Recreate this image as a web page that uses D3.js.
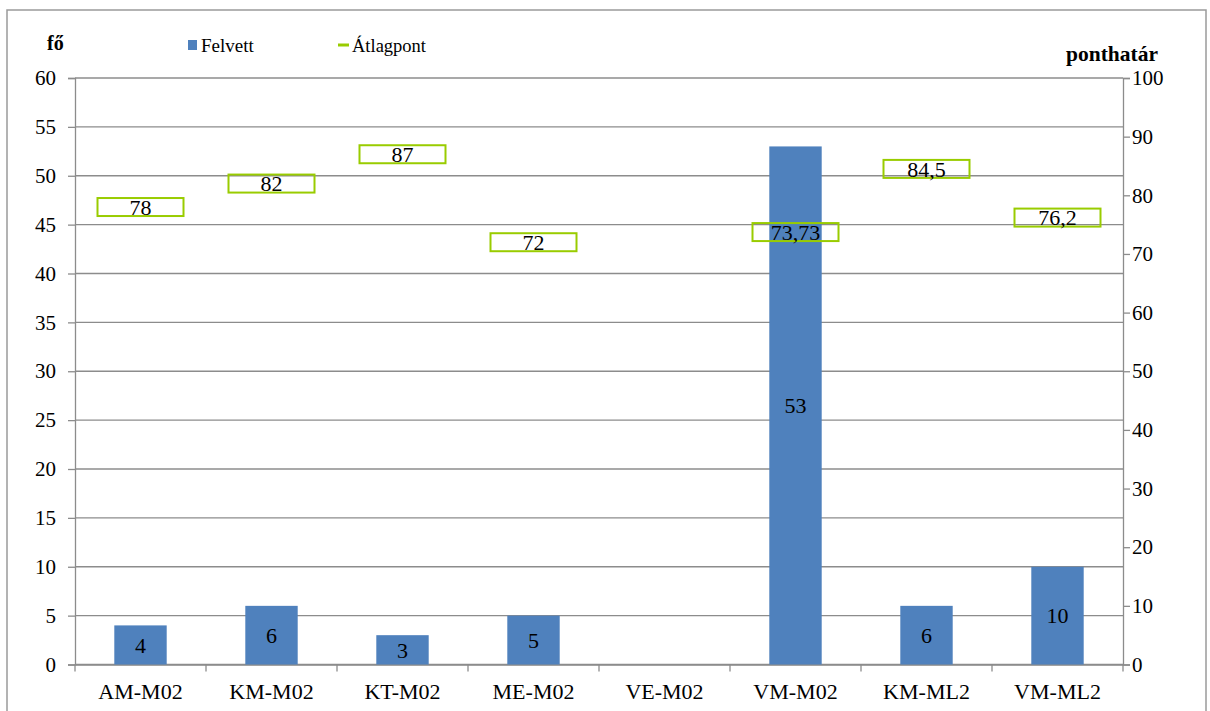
<!DOCTYPE html>
<html>
<head>
<meta charset="utf-8">
<script src="https://cdn.jsdelivr.net/npm/d3@7"></script>
<style>
  html, body { margin: 0; padding: 0; background: #fff; }
  svg, svg text { font-family: "Liberation Serif", "Times New Roman", serif !important; }
</style>
</head>
<body>
<svg id="chart" width="1210" height="711"></svg>
<script>
// Admission data per programme
const categories = ["AM-M02", "KM-M02", "KT-M02", "ME-M02", "VE-M02", "VM-M02", "KM-ML2", "VM-ML2"];
const felvett = [4, 6, 3, 5, null, 53, 6, 10];            // admitted students (fő)
const atlagpont = [78, 82, 87, 72, null, 73.73, 84.5, 76.2]; // average score (ponthatár)
const leftTicks = d3.range(0, 61, 5);
const rightTicks = d3.range(0, 101, 10);

const svg = d3.select("#chart");
const plot = { left: 75, right: 1123, top: 78, bottom: 664.5 };

const blue = "#4f81bd";
const green = "#99cc00";
const grid = "#8c8c8c";

// outer chart frame
svg.append("rect")
  .attr("x", 7).attr("y", 10).attr("width", 1199).attr("height", 720)
  .attr("fill", "none").attr("stroke", "#9a9a9a").attr("stroke-width", 1.5);

const x = d3.scaleBand().domain(categories).range([plot.left, plot.right]).paddingInner(0).paddingOuter(0);
const yL = d3.scaleLinear().domain([0, 60]).range([plot.bottom, plot.top]);
const yR = d3.scaleLinear().domain([0, 100]).range([plot.bottom, plot.top]);

// horizontal gridlines (left scale)
svg.append("g").selectAll("line").data(leftTicks).join("line")
  .attr("x1", plot.left).attr("x2", plot.right)
  .attr("y1", d => yL(d)).attr("y2", d => yL(d))
  .attr("stroke", grid).attr("stroke-width", 1.3);

// left axis
const axL = svg.append("g").attr("transform", `translate(${plot.left},0)`)
  .call(d3.axisLeft(yL).tickValues(leftTicks).tickSize(7).tickPadding(12));
// right axis
const axR = svg.append("g").attr("transform", `translate(${plot.right},0)`)
  .call(d3.axisRight(yR).tickValues(rightTicks).tickSize(7).tickPadding(2));
// bottom axis with tick marks at category boundaries
const axB = svg.append("g").attr("transform", `translate(0,${plot.bottom})`)
  .call(d3.axisBottom(x).tickSize(0).tickPadding(19));
axB.append("g").selectAll("line")
  .data(d3.range(categories.length + 1))
  .join("line")
  .attr("x1", i => plot.left + i * x.bandwidth())
  .attr("x2", i => plot.left + i * x.bandwidth())
  .attr("y1", 0).attr("y2", 7)
  .attr("stroke", grid).attr("stroke-width", 1.3);

[axL, axR, axB].forEach(g => {
  g.attr("font-family", null);
  g.selectAll(".domain").attr("stroke", grid).attr("stroke-width", 1.3);
  g.selectAll(".tick line").attr("stroke", grid).attr("stroke-width", 1.3);
  g.selectAll("text").attr("fill", "#000");
});
axL.selectAll("text").attr("font-size", 21);
axR.selectAll("text").attr("font-size", 21);
axB.selectAll("text").attr("font-size", 22);

// bars
const barW = x.bandwidth() * 0.4;
const barData = categories.map((c, i) => ({ c, v: felvett[i] })).filter(d => d.v != null);
svg.append("g").selectAll("rect").data(barData).join("rect")
  .attr("x", d => x(d.c) + x.bandwidth() / 2 - barW / 2)
  .attr("width", barW)
  .attr("y", d => yL(d.v))
  .attr("height", d => yL(0) - yL(d.v))
  .attr("fill", blue);

// bar value labels, centred in the bar
svg.append("g").selectAll("text").data(barData).join("text")
  .attr("x", d => x(d.c) + x.bandwidth() / 2)
  .attr("y", d => (yL(d.v) + yL(0)) / 2)
  .attr("dy", "0.35em")
  .attr("text-anchor", "middle")
  .attr("font-size", 22)
  .text(d => d.v);

// average score labels in green boxes
const fmt = v => String(v).replace(".", ",");
const ptData = categories.map((c, i) => ({ c, v: atlagpont[i] })).filter(d => d.v != null);
const boxW = 86, boxH = 18;
const pts = svg.append("g").selectAll("g").data(ptData).join("g")
  .attr("transform", d => `translate(${x(d.c) + x.bandwidth() / 2},${yR(d.v)})`);
pts.append("rect")
  .attr("x", -boxW / 2).attr("y", -boxH / 2)
  .attr("width", boxW).attr("height", boxH)
  .attr("fill", "none").attr("stroke", green).attr("stroke-width", 2);
pts.append("text")
  .attr("text-anchor", "middle").attr("dy", "0.35em")
  .attr("font-size", 22)
  .text(d => fmt(d.v));

// axis titles
svg.append("text").attr("x", 47).attr("y", 50)
  .attr("font-size", 20).attr("font-weight", "bold").text("fő");
svg.append("text").attr("x", 1066).attr("y", 61)
  .attr("font-size", 21.5).attr("font-weight", "bold").text("ponthatár");

// legend
const lg = svg.append("g");
lg.append("rect").attr("x", 188).attr("y", 40).attr("width", 9).attr("height", 10).attr("fill", blue);
lg.append("text").attr("x", 201).attr("y", 52).attr("font-size", 19).text("Felvett");
lg.append("line").attr("x1", 338).attr("x2", 349).attr("y1", 45).attr("y2", 45)
  .attr("stroke", green).attr("stroke-width", 3);
lg.append("text").attr("x", 352).attr("y", 52).attr("font-size", 18.5).text("Átlagpont");
</script>
</body>
</html>
